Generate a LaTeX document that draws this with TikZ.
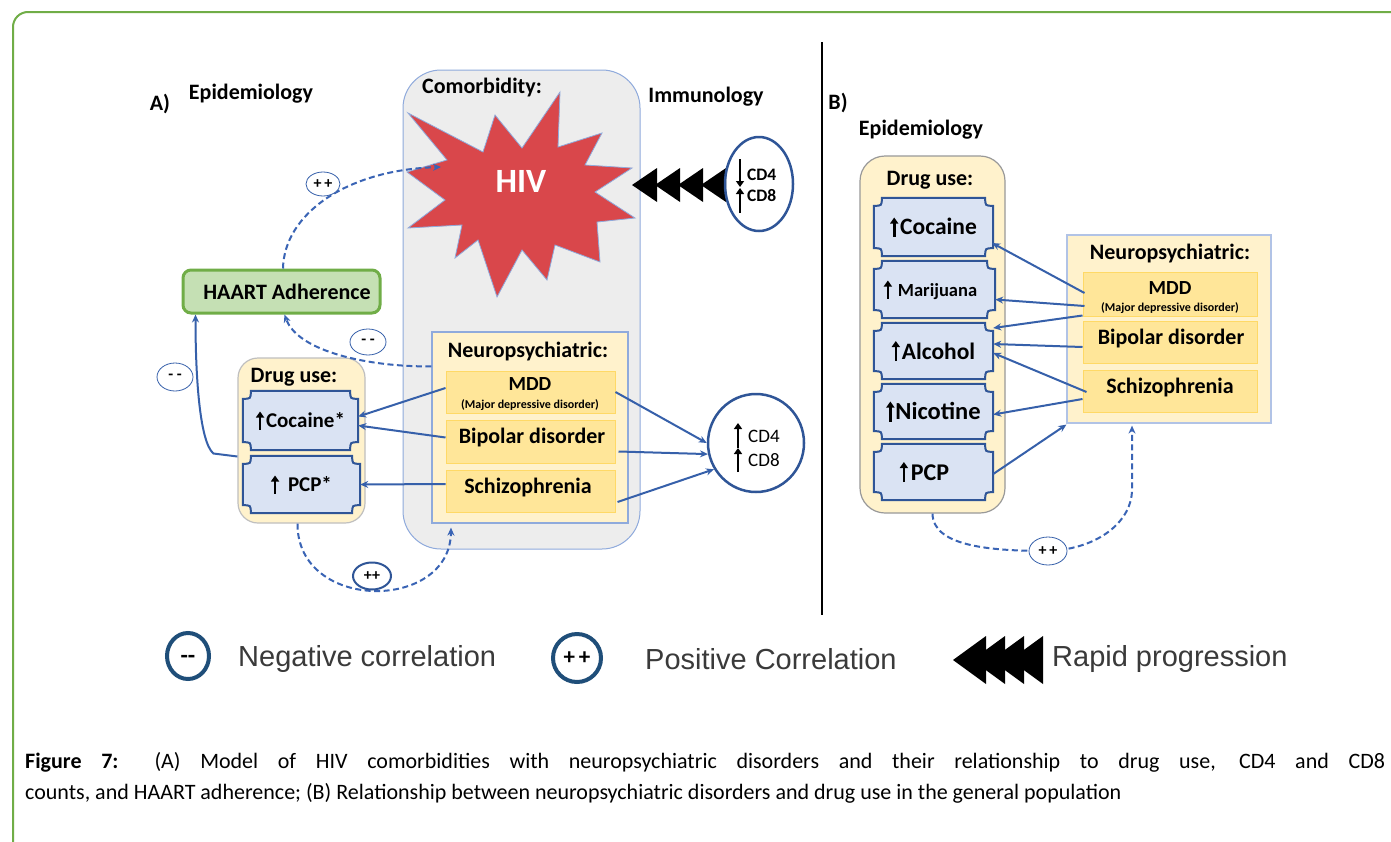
\documentclass[tikz,border=0pt]{standalone}
\usepackage{fontspec}
\setmainfont{Carlito}
\newfontfamily\legfont{Liberation Sans}
\usetikzlibrary{arrows.meta,calc,shapes.geometric}

\definecolor{frameg}{HTML}{70AD47}
\definecolor{grayfill}{HTML}{EDEDED}
\definecolor{grayline}{HTML}{8FAADC}
\definecolor{ylight}{HTML}{FFF2CC}
\definecolor{ydark}{HTML}{FFE699}
\definecolor{yline}{HTML}{FFD966}
\definecolor{plqfill}{HTML}{DAE3F3}
\definecolor{plqline}{HTML}{2F5597}
\definecolor{conncol}{HTML}{3660AA}
\definecolor{dconncol}{HTML}{3A64B5}
\definecolor{hivred}{HTML}{D9474B}
\definecolor{haartfill}{HTML}{C5E0B4}
\definecolor{drugline}{HTML}{BFBFBF}
\definecolor{legtext}{HTML}{3A3A3A}
\definecolor{legcirc}{HTML}{1F4E79}

\newcommand\upar[1][15]{\tikz[baseline=0pt]\draw[black,line width=2.6pt,-{Triangle[length=6pt,width=8pt]}] (0pt,-2pt)--(0pt,#1pt);}

\newcommand\plaqueof[1]{%
 \path[plq] ($(#1.north west)+(8,0)$) -- ($(#1.north east)+(-8,0)$)
  .. controls ($(#1.north east)+(-8,8)$) .. ($(#1.north east)+(0,8)$)
  -- ($(#1.south east)+(0,-8)$)
  .. controls ($(#1.south east)+(-8,-8)$) .. ($(#1.south east)+(-8,0)$)
  -- ($(#1.south west)+(8,0)$)
  .. controls ($(#1.south west)+(8,-8)$) .. ($(#1.south west)+(0,-8)$)
  -- ($(#1.north west)+(0,8)$)
  .. controls ($(#1.north west)+(8,8)$) .. cycle;}

% name, cx, cy, w, h, text
\newcommand\plaquenode[6]{%
 \node[inner sep=0,minimum width=#4pt,minimum height=#5pt] (#1) at (#2,#3) {};
 \plaqueof{#1}
 \node[plqtext] at (#1) {#6};}

\tikzset{
 lbl/.style={font=\fontsize{22}{24}\selectfont\bfseries, inner sep=0},
 grayb/.style={draw=grayline, fill=grayfill, line width=1pt, rounded corners=38pt, inner sep=0},
 neuro/.style={draw=grayline, fill=ylight, line width=1.2pt, inner sep=0},
 innerb/.style={draw=yline, fill=ydark, line width=1pt, inner sep=0},
 boxtext/.style={font=\fontsize{22}{24}\selectfont\bfseries, inner sep=0},
 drugbox/.style={draw=drugline, fill=ylight, line width=1.2pt, rounded corners=20pt, inner sep=0},
 plqtext/.style={inner sep=0, font=\fontsize{21}{22}\selectfont\bfseries},
 plq/.style={draw=plqline, fill=plqfill, line width=2pt},
 conn/.style={draw=conncol, line width=2pt, -{Stealth[length=8pt,width=7pt]}},
 dconn/.style={draw=dconncol, line width=2pt, dash pattern=on 6pt off 3.5pt, -{Stealth[length=8pt,width=7pt]}},
 corr/.style={ellipse, draw=conncol, line width=0.8pt, fill=white, inner sep=0, font=\fontsize{16}{16}\selectfont\bfseries},
 cdell/.style={ellipse, draw=plqline, line width=2.5pt, inner sep=0},
 cdarrow/.style={black, line width=2.6pt, -{Triangle[length=6pt,width=8pt]}},
 legtxt/.style={anchor=west, inner sep=0, font=\legfont\fontsize{29}{30}\selectfont, text=legtext},
}

\begin{document}
\begin{tikzpicture}[x=1pt,y=-1pt]
\useasboundingbox (0,0) rectangle (1391,841);
\fill[white] (0,0) rectangle (1391,841);

% frame
\draw[frameg, line width=2pt, rounded corners=15pt] (13,850) -- (13,12) -- (1400,12);

% ---------------- Panel A ----------------
\node[lbl] (ta) at (160,104) {A)};
\node[lbl] (epia) at (251,94) {Epidemiology};
\node[lbl] (immu) at (706,97) {Immunology};

\node[grayb, minimum width=237pt, minimum height=479pt] (comor) at (521.5,309.5) {};
\node[lbl] (comt) at (482,88) {Comorbidity:};

% HIV star
\draw[fill=hivred, draw=grayline, line width=0.8pt]
 (408,113) -- (483,152) -- (495,115) -- (522,148) -- (560,92) -- (558,147) -- (602,133)
 -- (585,165) -- (632,168) -- (595,192) -- (635,218) -- (597,222) -- (600,262)
 -- (555,245) -- (547,280) -- (522,250) -- (497,297) -- (478,240) -- (455,258)
 -- (462,225) -- (408,228) -- (445,200) -- (407,172) -- (447,160) -- cycle;
\node[font=\fontsize{34}{34}\selectfont\bfseries, text=white, inner sep=0] (hiv) at (521,181) {HIV};
\coordinate (hivleft) at (441,167);

% rapid progression
\foreach \t in {632,655,678,701} \fill[black] (\t,185) -- ({\t+25},168) -- ({\t+25},202) -- cycle;

% top CD ellipse
\node[cdell, minimum width=68pt, minimum height=94pt] (cdt) at (759,184) {};
\draw[cdarrow] (740,159) -- (740,187);
\draw[cdarrow] (740,213) -- (740,188);
\node[font=\fontsize{17.5}{18}\selectfont\bfseries, anchor=west, inner sep=0] (cd4t) at (747,175) {CD4};
\node[font=\fontsize{17.5}{18}\selectfont\bfseries, anchor=west, inner sep=0] (cd8t) at (747,196) {CD8};

% neuropsychiatric A
\node[neuro, minimum width=196pt, minimum height=191pt] (neura) at (530,427.5) {};
\node[lbl] (neurat) at (528,352) {Neuropsychiatric:};
\node[innerb, minimum width=169pt, minimum height=42pt] (mdda) at (530.5,392) {};
\node[boxtext, font=\fontsize{20}{22}\selectfont\bfseries] (mddat) at (530,384) {MDD};
\node[inner sep=0, font=\fontsize{12}{12}\selectfont\bfseries] (mddas) at (530,405) {(Major depressive disorder)};
\node[innerb, minimum width=169pt, minimum height=43pt] (bipa) at (530.5,441.5) {};
\node[boxtext] (bipat) at (532,438) {Bipolar disorder};
\node[innerb, minimum width=169pt, minimum height=42pt] (scha) at (530.5,491) {};
\node[boxtext] (schat) at (528,488) {Schizophrenia};

% drug use A
\node[drugbox, minimum width=127pt, minimum height=165pt] (druga) at (301.5,440.5) {};
\node[lbl] (drugat) at (294,377) {Drug use:};
\plaquenode{coca}{300.5}{420.5}{115}{59}{\upar[16]\hspace{2pt}Cocaine*}
\plaquenode{pcpa}{301.5}{484.5}{117}{57}{\upar[16]\hspace{9pt}PCP*}

% HAART
\node[draw=frameg, fill=haartfill, line width=3pt, rounded corners=8pt, minimum width=197pt, minimum height=43pt, inner sep=0] (haart) at (281.5,291.5) {};
\node[boxtext] (haartt) at (287,292) {HAART Adherence};

% bottom CD circle
\node[cdell, minimum width=96pt, minimum height=98pt] (cdb) at (756,443) {};
\draw[cdarrow] (738,448) -- (738,423);
\draw[cdarrow] (738,472) -- (738,448);
\node[font=\fontsize{19}{19}\selectfont, anchor=west, inner sep=0] (cd4b) at (748,436) {CD4};
\node[font=\fontsize{19}{19}\selectfont, anchor=west, inner sep=0] (cd8b) at (748,460) {CD8};

% connectors A
\draw[conn] ($(mdda.west)+(0,-4)$) -- ($(coca.east)+(0,-4)$);
\draw[conn] ($(bipa.west)+(0,-4)$) -- ($(coca.east)+(0,5)$);
\draw[conn] ($(scha.west)+(0,-7)$) -- (pcpa.east);
\draw[conn] (mdda.east) -- (cdb.180);
\draw[conn] ($(bipa.east)+(3,10)$) -- (cdb.193);
\draw[conn] ($(scha.east)+(2,11)$) -- (cdb.212);
\draw[conn] ($(druga.west)+(0,16)$) -- ++(-24,-3) .. controls +(-14,-12) and +(0,60) .. ($(haart.south west)+(14,0)$);
\draw[dconn] ($(neura.north west)+(0,35)$) .. controls (370,367) and (298,352) .. ($(haart.south)+(3,0)$);
\draw[dconn] ($(haart.north)+(1.5,0)$) .. controls (284,215) and (345,170) .. (hivleft);
\draw[dconn] ($(druga.south)+(-4,0)$) .. controls (297,612) and (450,612) .. ($(neura.south)+(-79,4)$);

\node[corr, minimum width=34pt, minimum height=24pt] (pp1) at (323,184) {+\,+};
\node[corr, minimum width=36pt, minimum height=26pt] (mm1) at (368,342) {-\ -};
\node[corr, minimum width=36pt, minimum height=28pt] (mm2) at (175,377) {-\ -};
\node[corr, draw=plqline, line width=2pt, minimum width=38pt, minimum height=27pt] (pp2) at (372,576) {++};

% divider
\draw[black, line width=2pt] (822,42) -- (822,615);

% ---------------- Panel B ----------------
\node[lbl] (tb) at (838,103) {B)};
\node[lbl] (epib) at (921,130) {Epidemiology};

\node[drugbox, draw=drugline!80!black, rounded corners=25pt, minimum width=145pt, minimum height=357pt] (drugb) at (932.5,334.5) {};
\node[lbl] (drugbt) at (930,180) {Drug use:};
\plaquenode{cocb}{933.5}{227}{119}{58}{\fontsize{23.5}{24}\selectfont\upar[17]\hspace{2pt}Cocaine}
\plaquenode{marb}{934.5}{289.5}{121}{57}{\hspace{-8pt}\fontsize{18.5}{19}\selectfont\upar[16]\hspace{6pt}Marijuana}
\plaquenode{alcb}{933.5}{351}{119}{56}{\fontsize{23.5}{24}\selectfont\upar[18]\hspace{2pt}Alcohol}
\plaquenode{nicb}{933.5}{411.5}{119}{55}{\fontsize{24.5}{25}\selectfont\upar[18]\hspace{1pt}Nicotine}
\plaquenode{pcpb}{933.5}{472}{119}{56}{\hspace{-18pt}\fontsize{24}{24}\selectfont\upar[18]\hspace{3pt}PCP}

\node[neuro, draw=grayline!70, minimum width=204pt, minimum height=188pt] (neurob) at (1169,329) {};
\node[lbl] (neurobt) at (1170,254) {Neuropsychiatric:};
\node[innerb, minimum width=174pt, minimum height=44pt] (mddb) at (1170,294) {};
\node[boxtext, font=\fontsize{20}{22}\selectfont\bfseries] (mddbt) at (1170,288) {MDD};
\node[inner sep=0, font=\fontsize{12}{12}\selectfont\bfseries] (mddbs) at (1170,308) {(Major depressive disorder)};
\node[innerb, minimum width=174pt, minimum height=42pt] (bipb) at (1170,342) {};
\node[boxtext] (bipbt) at (1171,339) {Bipolar disorder};
\node[innerb, minimum width=174pt, minimum height=42pt] (schb) at (1170,391) {};
\node[boxtext] (schbt) at (1170,388) {Schizophrenia};

\draw[conn] ($(mddb.west)+(2,-1)$) -- ($(cocb.east)+(-1,16)$);
\draw[conn] ($(mddb.west)+(2,12)$) -- ($(marb.east)+(0,10)$);
\draw[conn] ($(mddb.south west)+(0,-1)$) -- ($(alcb.east)+(0,-23)$);
\draw[conn] ($(bipb.west)+(0,5)$) -- ($(alcb.east)+(0,-7)$);
\draw[conn] ($(schb.west)+(4,1)$) -- ($(alcb.east)+(0,2)$);
\draw[conn] ($(schb.west)+(0,8)$) -- ($(nicb.east)+(0,3)$);
\draw[conn] ($(pcpb.east)+(0,2)$) -- ($(neurob.south west)+(0,1)$);

\node[inner sep=0] (pp3pos) at (1048,551) {};
\draw[dconn] (drugb.south) .. controls (933,545) and (985,551) .. (pp3pos.center)
  .. controls (1100,549) and (1132,520) .. (1132,490) -- ($(neurob.south)+(-37,2)$);
\node[corr, minimum width=38pt, minimum height=28pt] (pp3) at (pp3pos) {+\,+};

% ---------------- Legend ----------------
\node[ellipse, draw=legcirc, line width=4pt, minimum width=42pt, minimum height=46pt, inner sep=0] (legneg) at (188,656) {};
\node[anchor=base, inner sep=0, font=\fontsize{24}{24}\selectfont\bfseries] (legnegs) at (188,663) {-{}-};
\node[legtxt] (legnegt) at (238,659) {Negative correlation};
\node[ellipse, draw=legcirc, line width=4pt, minimum width=48pt, minimum height=48pt, inner sep=0, font=\fontsize{23}{23}\selectfont\bfseries] (legpos) at (577,658) {+\,+};
\node[legtxt] (legpost) at (645,659) {Positive Correlation};
\foreach \t in {953,972,991,1010} \fill[black] (\t,660) -- ({\t+33},636) -- ({\t+33},684) -- cycle;
\node[legtxt] (legrapt) at (1052,659) {Rapid progression};

% ---------------- Caption ----------------
\node[anchor=north west, text width=1360pt, align=justify, inner sep=0, font=\fontsize{22}{31}\selectfont] (cap) at (25,752)
 {\textbf{Figure 7:} (A) Model of HIV comorbidities with neuropsychiatric disorders and their relationship to drug use, CD4 and CD8\linebreak counts, and HAART adherence; (B) Relationship between neuropsychiatric disorders and drug use in the general population};
\end{tikzpicture}
\end{document}
